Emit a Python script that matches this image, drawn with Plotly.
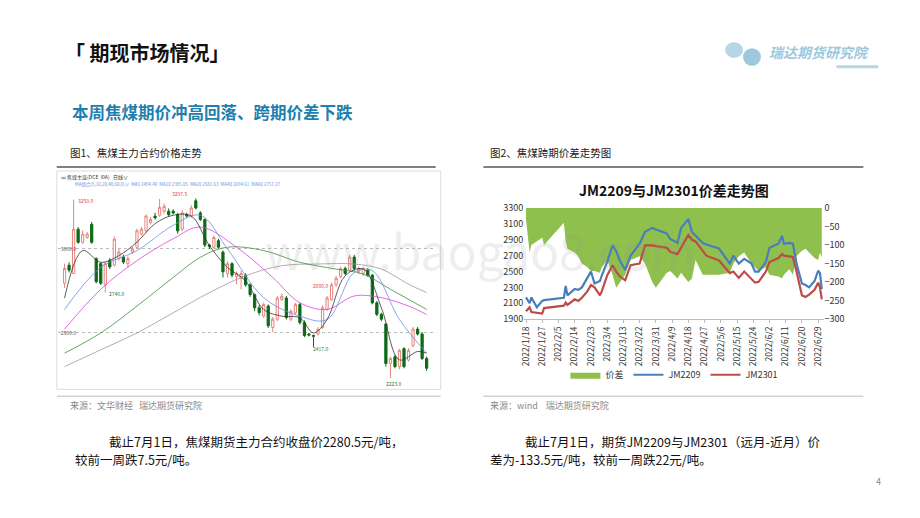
import plotly.graph_objects as go

W, H = 920, 518

# ---- 图1 焦煤主力合约 K线 ----
k_open = [2796, 2903, 2854, 3117, 3039, 3068, 3146, 2942, 2912, 2786, 2932, 2903, 2942, 2951, 2912, 2981, 3010, 3088, 3107, 3156,
          3195, 3200, 3224, 3224, 3224, 3204, 3117, 3204, 3195, 3286, 3214, 3175, 3023, 3010, 3049, 2981, 2854, 2912, 2835, 2825,
          2844, 2786, 2728, 2650, 2601, 2660, 2533, 2582, 2699, 2708, 2582, 2620, 2669, 2562, 2494, 2485, 2494, 2533, 2640, 2699,
          2786, 2835, 2883, 2874, 2951, 2864, 2854, 2874, 2844, 2679, 2611, 2553, 2319, 2358, 2300, 2407, 2339, 2426, 2523, 2494, 2348]
k_close = [2883, 2874, 3117, 3039, 3088, 3088, 3039, 2805, 2796, 2912, 2893, 3058, 2981, 2922, 2942, 3000, 3107, 3117, 3195, 3175,
           3185, 3247, 3253, 3204, 3214, 3107, 3214, 3195, 3243, 3243, 3175, 3023, 3014, 3068, 3010, 2864, 2912, 2844, 2854, 2854,
           2786, 2728, 2650, 2621, 2669, 2543, 2582, 2708, 2718, 2592, 2630, 2669, 2562, 2485, 2488, 2481, 2523, 2650, 2708, 2786,
           2825, 2883, 2854, 2951, 2883, 2883, 2883, 2844, 2679, 2611, 2582, 2319, 2348, 2300, 2397, 2300, 2397, 2523, 2494, 2348, 2290]
k_high = [2912, 2920, 3292, 3130, 3110, 3100, 3160, 2950, 2920, 2925, 2945, 3075, 3000, 2965, 2955, 3015, 3120, 3130, 3205, 3190,
          3215, 3297, 3270, 3240, 3235, 3215, 3230, 3215, 3260, 3300, 3225, 3180, 3030, 3080, 3060, 2990, 2925, 2920, 2865, 2870,
          2855, 2795, 2735, 2665, 2680, 2670, 2595, 2720, 2735, 2720, 2640, 2680, 2680, 2575, 2500, 2490, 2535, 2665, 2720, 2800,
          2840, 2895, 2895, 2965, 2965, 2895, 2895, 2885, 2850, 2690, 2620, 2560, 2360, 2370, 2405, 2415, 2410, 2535, 2535, 2505, 2360]
k_low = [2767, 2860, 2850, 3030, 3030, 3060, 3030, 2795, 2785, 2740, 2880, 2895, 2930, 2910, 2890, 2970, 3000, 3080, 3095, 3145,
         3175, 3190, 3210, 3190, 3205, 3090, 3105, 3185, 3185, 3235, 3165, 3010, 3000, 3000, 3000, 2830, 2830, 2830, 2790, 2760,
         2775, 2715, 2630, 2605, 2590, 2530, 2504, 2570, 2690, 2580, 2570, 2610, 2550, 2475, 2480, 2417, 2485, 2525, 2630, 2690,
         2775, 2825, 2845, 2865, 2870, 2850, 2840, 2835, 2670, 2600, 2570, 2300, 2232, 2290, 2285, 2290, 2330, 2415, 2485, 2340, 2275]

ma_idx5 = [0, 4, 8, 12, 16, 20, 24, 28, 32, 36, 40, 44, 48, 52, 55, 58, 62, 66, 70, 74, 78, 80]
ma5 = [2708, 2990, 2920, 2960, 3040, 3150, 3200, 3195, 3020, 2890, 2810, 2640, 2600, 2590, 2500, 2580, 2840, 2880, 2650, 2340, 2390, 2380]
ma_idx10 = [0, 8, 16, 24, 30, 36, 44, 52, 58, 64, 68, 74, 80]
ma10 = [2640, 2890, 2990, 3140, 3200, 3000, 2710, 2600, 2580, 2860, 2870, 2580, 2380]
ma_idx20 = [0, 8, 16, 24, 30, 38, 46, 52, 58, 64, 70, 76, 80]
ma20 = [2523, 2760, 2930, 3060, 3130, 3010, 2830, 2680, 2640, 2720, 2710, 2660, 2610]
ma_idx40 = [0, 8, 16, 24, 30, 36, 44, 52, 60, 66, 72, 80]
ma40 = [2380, 2500, 2660, 2830, 2950, 3010, 2990, 2920, 2880, 2850, 2760, 2640]
ma_idx60 = [0, 8, 16, 24, 32, 40, 48, 56, 64, 70, 76, 80]
ma60 = [2300, 2400, 2500, 2620, 2740, 2840, 2900, 2910, 2910, 2880, 2790, 2740]

# ---- 图2 JM2209 与 JM2301 价差 ----
dates = ["1/18", "1/20", "1/21", "1/24", "1/27", "1/28", "2/8", "2/9", "2/10", "2/14", "2/16", "2/18", "2/21", "2/23", "2/25",
         "2/28", "3/1", "3/4", "3/7", "3/9", "3/11", "3/14", "3/17", "3/22", "3/25", "3/29", "3/31", "4/6", "4/8", "4/12",
         "4/14", "4/18", "4/20", "4/22", "4/26", "4/28", "5/5", "5/11", "5/13", "5/16", "5/19", "5/23", "5/25", "5/27", "5/31",
         "6/2", "6/7", "6/9", "6/10", "6/13", "6/15", "6/17", "6/20", "6/22", "6/24", "6/27", "6/29", "6/30", "7/1"]
jm2209 = [2174, 2100, 2174, 2050, 2130, 2140, 2170, 2320, 2200, 2280, 2270, 2300, 2420, 2500, 2350, 2380, 2450, 2620, 2830, 2760,
          2640, 2520, 2700, 2850, 3000, 3050, 3030, 2980, 2910, 2860, 3050, 3160, 3000, 2950, 2860, 2840, 2790, 2600, 2700, 2600,
          2660, 2600, 2500, 2500, 2620, 2800, 2850, 2950, 2850, 2860, 2850, 2600, 2350, 2330, 2300, 2380, 2510, 2480, 2280]
jm2301 = [2000, 2050, 1990, 1980, 1970, 2040, 2070, 2110, 2080, 2150, 2130, 2170, 2250, 2330, 2300, 2200, 2250, 2450, 2580, 2500,
          2440, 2390, 2580, 2600, 2830, 2830, 2820, 2800, 2750, 2720, 2800, 2960, 2900, 2880, 2760, 2700, 2640, 2480, 2500, 2420,
          2500, 2400, 2360, 2370, 2500, 2620, 2670, 2720, 2700, 2690, 2680, 2500, 2200, 2180, 2210, 2270, 2360, 2300, 2150]
spread = [-30, -120, -100, -90, -80, -100, -40, -90, -110, -120, -130, -150, -160, -170, -170, -175, -160, -140, -180, -215,
          -200, -180, -140, -130, -150, -200, -215, -175, -170, -190, -175, -200, -190, -140, -180, -180, -180, -175, -150, -130,
          -120, -150, -160, -170, -160, -180, -185, -190, -180, -165, -180, -130, -115, -110, -120, -135, -140, -120, -133.5]
xdates = ["2022-%02d-%02d" % tuple(int(p) for p in d.split("/")) for d in dates]
tick_dates = ["2022-01-18", "2022-01-27", "2022-02-05", "2022-02-14", "2022-02-23", "2022-03-04", "2022-03-13", "2022-03-22",
              "2022-03-31", "2022-04-09", "2022-04-18", "2022-04-27", "2022-05-06", "2022-05-15", "2022-05-24", "2022-06-02",
              "2022-06-11", "2022-06-20", "2022-06-29"]
tick_text = ["2022/" + "/".join(str(int(p)) for p in t.split("-")[1:]) for t in tick_dates]

fig = go.Figure()

# left: candles + MAs
fig.add_trace(go.Candlestick(x=list(range(len(k_open))), open=k_open, high=k_high, low=k_low, close=k_close,
                             increasing=dict(line=dict(color="#e8837f", width=1), fillcolor="white"),
                             decreasing=dict(line=dict(color="#0b6b16", width=1), fillcolor="#0b6b16"),
                             whiskerwidth=0, showlegend=False, xaxis="x", yaxis="y"))
for idx, vals, col in [(ma_idx60, ma60, "#9a9a9a"), (ma_idx40, ma40, "#3d8f3d"), (ma_idx20, ma20, "#e040e0"),
                       (ma_idx10, ma10, "#6a8fe0"), (ma_idx5, ma5, "#333333")]:
    fig.add_trace(go.Scatter(x=idx, y=vals, mode="lines", line=dict(color=col, width=0.8, shape="spline"),
                             showlegend=False, xaxis="x", yaxis="y"))

# right: spread area (base axis, right side) + two contracts (overlaying, left side)
fig.add_trace(go.Scatter(x=xdates, y=spread, mode="lines", fill="tozeroy", fillcolor="#8fbf4d",
                         line=dict(color="#8fbf4d", width=0), name="价差", xaxis="x2", yaxis="y2"))
fig.add_trace(go.Scatter(x=xdates, y=jm2209, mode="lines", line=dict(color="#4a7ebb", width=2.2),
                         name="JM2209", xaxis="x2", yaxis="y3"))
fig.add_trace(go.Scatter(x=xdates, y=jm2301, mode="lines", line=dict(color="#be4b48", width=2.2),
                         name="JM2301", xaxis="x2", yaxis="y3"))

fig.update_layout(
    width=W, height=H, margin=dict(l=0, r=0, t=0, b=0), paper_bgcolor="white", plot_bgcolor="white",
    font=dict(family="Noto Sans CJK SC, Noto Sans", color="#222"),
    xaxis=dict(domain=[45 / W, 425 / W], range=[-1.5, 82], showticklabels=False, showgrid=False,
               zeroline=False, rangeslider=dict(visible=False)),
    yaxis=dict(domain=[1 - 380 / H, 1 - 174 / H], range=[2188, 3382], tickvals=[2500, 3000],
               ticktext=["2500.0", "3000.0"], ticklabelposition="inside", tickfont=dict(size=5, color="#555"),
               gridcolor="#bbb", griddash="dot", zeroline=False),
    xaxis2=dict(domain=[514 / W, 815 / W], type="date", range=["2022-01-17", "2022-07-02"],
                tickvals=tick_dates, ticktext=tick_text, tickangle=-90, tickfont=dict(size=8.5, color="#333"),
                showgrid=False, showline=True, linecolor="#bbb", ticks="outside", ticklen=3, tickcolor="#bbb",
                anchor="y2"),
    yaxis2=dict(domain=[1 - 312 / H, 1 - 198 / H], range=[-300, 0], dtick=50, side="right", anchor="x2",
                tickfont=dict(size=9, color="#333"), showgrid=False, zeroline=False),
    yaxis3=dict(overlaying="y2", side="left", range=[1900, 3300], tick0=1900, dtick=200, anchor="x2",
                tickfont=dict(size=9, color="#333"), showgrid=False, zeroline=False),
    legend=dict(orientation="h", x=665 / W, xanchor="center", y=1 - 369 / H, yanchor="middle",
                font=dict(size=9, color="#333"), bgcolor="rgba(0,0,0,0)"),
)

shapes = [
    dict(type="rect", xref="paper", yref="paper", x0=44 / W, x1=430 / W, y0=1 - 384 / H, y1=1 - 160 / H,
         line=dict(color="#ddd", width=1), layer="below"),
    dict(type="line", xref="paper", yref="paper", x0=44 / W, x1=425 / W, y0=1 - 156 / H, y1=1 - 156 / H,
         line=dict(color="#555", width=1.5)),
    dict(type="line", xref="paper", yref="paper", x0=473 / W, x1=855 / W, y0=1 - 156 / H, y1=1 - 156 / H,
         line=dict(color="#555", width=1.5)),
    dict(type="line", xref="paper", yref="paper", x0=44 / W, x1=430 / W, y0=1 - 391 / H, y1=1 - 391 / H,
         line=dict(color="#bbb", width=1)),
    dict(type="line", xref="paper", yref="paper", x0=473 / W, x1=855 / W, y0=1 - 391 / H, y1=1 - 391 / H,
         line=dict(color="#bbb", width=1)),
    dict(type="line", xref="paper", yref="paper", x0=828 / W, x1=870 / W, y0=1 - 53 / H, y1=1 - 53 / H,
         line=dict(color="#b6d6e6", width=3)),
    dict(type="circle", xref="paper", yref="paper", x0=716 / W, x1=734 / W, y0=1 - 44 / H, y1=1 - 28 / H,
         fillcolor="#b6d6e6", line=dict(width=0)),
    dict(type="circle", xref="paper", yref="paper", x0=734 / W, x1=752 / W, y0=1 - 52 / H, y1=1 - 34 / H,
         fillcolor="#9cc9de", line=dict(width=0)),
]
fig.update_layout(shapes=shapes)


def txt(x, y, s, size, color="#222", bold=False, anchor="left", italic=False):
    if bold:
        s = "<b>" + s + "</b>"
    if italic:
        s = "<i>" + s + "</i>"
    fig.add_annotation(x=x / W, y=1 - y / H, xref="paper", yref="paper", text=s, showarrow=False,
                       xanchor=anchor, yanchor="middle", font=dict(size=size, color=color))


txt(50, 38, "「 期现市场情况」", 20, "#111", bold=True)
txt(758, 38, "瑞达期货研究院", 14, "#9cc9de", bold=True, italic=True)
txt(57, 100, "本周焦煤期价冲高回落、跨期价差下跌", 16.5, "#1f7fae", bold=True)
txt(55, 141, "图1、焦煤主力合约价格走势", 10.5)
txt(478, 141, "图2、焦煤跨期价差走势图", 10.5)
txt(665, 180, "JM2209与JM2301价差走势图", 14, "#111", bold=True, anchor="center")
txt(46, 166, "∞ 焦煤主连(DCE  I0A)   日线∨", 5, "#333")
txt(60, 174, "MA组合(5,10,20,40,60,0)∨  MA5 2494.40  MA10 2385.05  MA20 2581.63  MA40 2694.61  MA60 2757.27", 4.5, "#6a8fe0")
txt(63, 190, "3259.0", 5, "#d44")
txt(158, 183, "3297.5", 5, "#d44")
txt(95, 286, "2740.0", 5, "#2a7a2a")
txt(300, 277, "2886.0", 5, "#d44")
txt(300, 342, "2417.0", 5, "#2a7a2a")
txt(373, 378, "2223.0", 5, "#2a7a2a")
txt(55, 401, "来源：文华财经   瑞达期货研究院", 9, "#888")
txt(478, 401, "来源：wind    瑞达期货研究院", 9, "#888")
txt(95, 437, "截止7月1日，焦煤期货主力合约收盘价2280.5元/吨，", 12.5, "#111")
txt(60, 456, "较前一周跌7.5元/吨。", 12.5, "#111")
txt(513, 437, "截止7月1日，期货JM2209与JM2301（远月-近月）价", 12.5, "#111")
txt(478, 456, "差为-133.5元/吨，较前一周跌22元/吨。", 12.5, "#111")
txt(866, 478, "4", 9, "#888")
fig.add_annotation(x=470 / W, y=1 - 240 / H, xref="paper", yref="paper", text="www.baogao8.com", showarrow=False,
                   font=dict(size=48, color="rgba(150,150,150,0.18)"))

fig.write_html("out.html")
